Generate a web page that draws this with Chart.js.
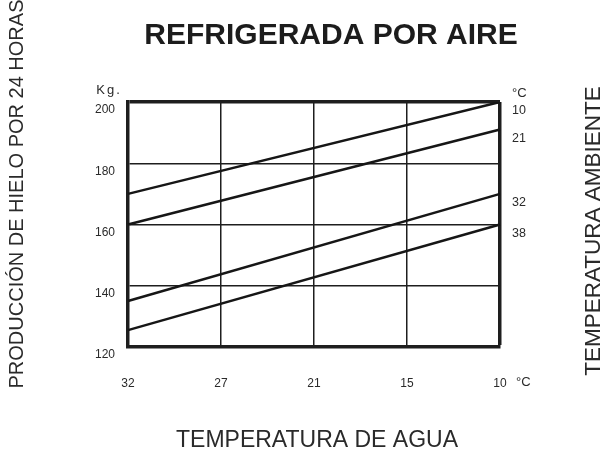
<!DOCTYPE html>
<html>
<head>
<meta charset="utf-8">
<script src="https://cdn.jsdelivr.net/npm/chart.js@4.4.1/dist/chart.umd.min.js"></script>
<style>
  body { margin: 0; background: #fff; }
  canvas { display: block; }
</style>
</head>
<body>
<canvas id="iceChart" width="608" height="455"></canvas>
<script>
// temperatura de agua (eje x, de 32 a 10 °C)
var waterTemps = ['32', '27', '21', '15', '10'];
// temperatura ambiente de cada curva
var ambientTemps = ['10', '21', '32', '38'];
// producción en kg / 24 h, solo los extremos
var prod10 = [170, null, null, null, 200];
var prod21 = [160, null, null, null, 191];
var prod32 = [135, null, null, null, 170];
var prod38 = [125.5, null, null, null, 160];
var yTicks = [120, 140, 160, 180, 200];

var FONT = '"Liberation Sans", Arial, sans-serif';
var INK = '#2a2a2a';

function makeSet(label, values) {
    return {
        label: label,
        data: values,
        borderColor: '#161616',
        borderWidth: 2.5,
        pointRadius: 0,
        spanGaps: true,
        tension: 0,
        fill: false
    };
}

var extraText = {
    id: 'extraText',
    afterDraw: function(chart) {
        var ctx = chart.ctx;
        var y = chart.scales.y;
        var area = chart.chartArea;
        ctx.save();
        ctx.fillStyle = INK;

        // titulo
        ctx.font = 'bold 30px ' + FONT;
        ctx.textAlign = 'center';
        ctx.textBaseline = 'middle';
        ctx.fillStyle = '#1c1c1c';
        ctx.fillText('REFRIGERADA POR AIRE', 331, 36);
        ctx.fillStyle = INK;

        ctx.font = '13px ' + FONT;
        ctx.letterSpacing = '2px';
        ctx.fillText('Kg.', 109, 90);
        ctx.letterSpacing = '0px';
        ctx.textAlign = 'left';
        ctx.fillText('°C', area.right + 12, 93);
        ctx.fillText('°C', area.right + 16, 382);

        // etiquetas de las curvas
        ctx.font = '12.5px ' + FONT;
        chart.data.datasets.forEach(function(ds) {
            var last = ds.data[ds.data.length - 1];
            ctx.fillText(ds.label, area.right + 12, y.getPixelForValue(last) + 9);
        });

        // titulos de ejes
        ctx.textAlign = 'center';
        ctx.font = '23px ' + FONT;
        ctx.fillText('TEMPERATURA DE AGUA', 317, 441);

        ctx.save();
        ctx.font = '20px ' + FONT;
        ctx.translate(17, 194);
        ctx.rotate(-Math.PI / 2);
        ctx.fillText('PRODUCCIÓN DE HIELO POR 24 HORAS', 0, 0);
        ctx.restore();

        ctx.save();
        ctx.font = '22.5px ' + FONT;
        ctx.translate(594, 231);
        ctx.rotate(-Math.PI / 2);
        ctx.fillText('TEMPERATURA AMBIENTE', 0, 0);
        ctx.restore();

        ctx.restore();
    }
};

var ctx = document.getElementById('iceChart').getContext('2d');
var iceChart = new Chart(ctx, {
    type: 'line',
    data: {
        labels: waterTemps,
        datasets: [
            makeSet(ambientTemps[0], prod10),
            makeSet(ambientTemps[1], prod21),
            makeSet(ambientTemps[2], prod32),
            makeSet(ambientTemps[3], prod38)
        ]
    },
    options: {
        responsive: false,
        animation: false,
        layout: {
            padding: { left: 88, right: 108, top: 102, bottom: 58 }
        },
        plugins: {
            legend: { display: false },
            title: { display: false },
            tooltip: { enabled: false }
        },
        scales: {
            x: {
                type: 'category',
                offset: false,
                afterFit: function(s) { s.height = 50; },
                grid: {
                    color: '#1e1e1e',
                    drawTicks: false,
                    lineWidth: function(c) { return c.index === waterTemps.length - 1 ? 3.5 : 1.5; }
                },
                border: { color: '#1e1e1e', width: 3.5 },
                ticks: {
                    color: INK,
                    padding: 29,
                    maxRotation: 0,
                    font: { family: FONT, size: 12 }
                }
            },
            y: {
                min: 120,
                max: 200,
                afterFit: function(s) { s.width = 40; },
                afterBuildTicks: function(s) {
                    s.ticks = yTicks.map(function(v) { return { value: v }; });
                },
                grid: {
                    color: '#1e1e1e',
                    drawTicks: false,
                    lineWidth: function(c) { return c.tick && c.tick.value === 200 ? 3.5 : 1.5; }
                },
                border: { color: '#1e1e1e', width: 3.5 },
                ticks: {
                    color: INK,
                    padding: 13,
                    labelOffset: 8,
                    font: { family: FONT, size: 12 }
                }
            }
        }
    },
    plugins: [extraText]
});
</script>
</body>
</html>
